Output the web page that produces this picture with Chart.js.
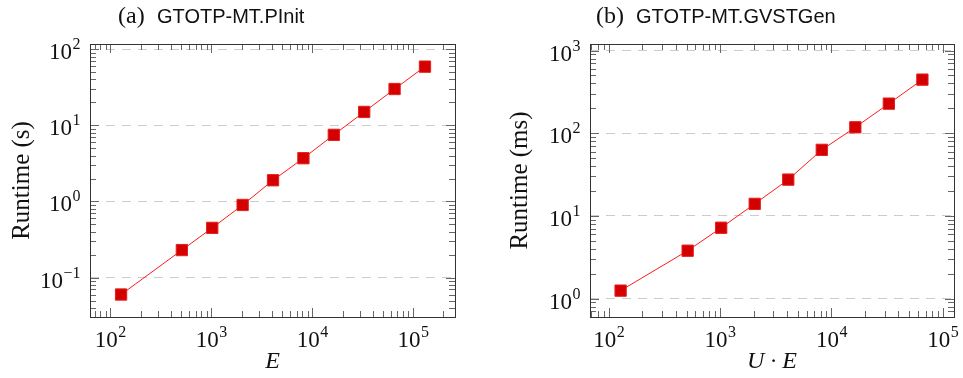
<!DOCTYPE html>
<html>
<head>
<meta charset="utf-8">
<script src="https://cdn.jsdelivr.net/npm/chart.js@4"></script>
<style>
  body { margin: 0; background: #fff; }
  .panel { position: absolute; top: 0; width: 480px; height: 378px; }
</style>
</head>
<body>
<div class="panel" style="left:0"><canvas id="chartA" width="480" height="378"></canvas></div>
<div class="panel" style="left:483px"><canvas id="chartB" width="480" height="378"></canvas></div>
<script>
// (a) GTOTP-MT.PInit : runtime (s) vs E
const xA = [128, 512, 1024, 2048, 4096, 8192, 16384, 32768, 65536, 131072];
const yA = [0.06, 0.23, 0.45, 0.9, 1.9, 3.7, 7.5, 15, 30, 59];
// (b) GTOTP-MT.GVSTGen : runtime (ms) vs U*E
const xB = [128, 512, 1024, 2048, 4096, 8192, 16384, 32768, 65536];
const yB = [1.25, 3.8, 7.2, 14, 27.5, 63, 118, 228, 445];

// major ticks (powers of ten)
const xTicksA = [1e2, 1e3, 1e4, 1e5];
const yTicksA = [1e-1, 1e0, 1e1, 1e2];
const xTicksB = [1e2, 1e3, 1e4, 1e5];
const yTicksB = [1e0, 1e1, 1e2, 1e3];

const SERIF = '"Liberation Serif", "DejaVu Serif", serif';
const SANS = '"Liberation Sans", "DejaVu Sans", sans-serif';

// draw 10^n with a raised exponent
function drawPow(ctx, v, x, base, align) {
  const e = Math.round(Math.log10(v));
  const exp = e < 0 ? '\u2212' + (-e) : String(e);
  ctx.font = '23px ' + SERIF;
  const w1 = ctx.measureText('10').width;
  ctx.font = '16px ' + SERIF;
  const w2 = ctx.measureText(exp).width;
  let x0 = align === 'center' ? x - (w1 + w2) / 2 : x - (w1 + w2);
  ctx.textAlign = 'left';
  ctx.textBaseline = 'alphabetic';
  ctx.font = '23px ' + SERIF;
  ctx.fillText('10', x0, base);
  ctx.font = '16px ' + SERIF;
  ctx.fillText(exp, x0 + w1 + 0.5, base - 10);
}

const decor = {
  id: 'decor',
  afterDraw(chart, args, o) {
    const ctx = chart.ctx, a = chart.chartArea;
    const xs = chart.scales.x, ys = chart.scales.y;
    ctx.save();

    // inner tick marks on all four sides
    ctx.strokeStyle = '#666';
    ctx.lineWidth = 1;
    const eachTick = (s, fn) => {
      const lo = Math.floor(Math.log10(s.min)), hi = Math.ceil(Math.log10(s.max));
      for (let d = lo; d <= hi; d++) {
        for (let k = 1; k <= 9; k++) {
          const v = k * Math.pow(10, d);
          if (v < s.min || v > s.max) continue;
          fn(Math.round(s.getPixelForValue(v)) + 0.5, k === 1 ? 9 : 6);
        }
      }
    };
    ctx.beginPath();
    eachTick(xs, (p, len) => {
      ctx.moveTo(p, a.bottom); ctx.lineTo(p, a.bottom - len);
      ctx.moveTo(p, a.top); ctx.lineTo(p, a.top + len);
    });
    eachTick(ys, (p, len) => {
      ctx.moveTo(a.left, p); ctx.lineTo(a.left + len, p);
      ctx.moveTo(a.right, p); ctx.lineTo(a.right - len, p);
    });
    ctx.stroke();

    // frame
    ctx.strokeStyle = '#333';
    ctx.strokeRect(Math.round(a.left) + 0.5, Math.round(a.top) + 0.5,
      Math.round(a.right - a.left), Math.round(a.bottom - a.top));

    // tick labels
    ctx.fillStyle = '#111';
    o.xTicks.forEach(v => drawPow(ctx, v, xs.getPixelForValue(v), a.bottom + 30, 'center'));
    o.yTicks.forEach(v => drawPow(ctx, v, a.left - 10, ys.getPixelForValue(v) + 10, 'right'));

    // axis titles
    ctx.textAlign = 'center';
    ctx.textBaseline = 'alphabetic';
    ctx.font = 'italic 24px ' + SERIF;
    ctx.fillText(o.xTitle, (a.left + a.right) / 2, 368);
    ctx.save();
    ctx.translate(o.yTitleX, (a.top + a.bottom) / 2);
    ctx.rotate(-Math.PI / 2);
    ctx.textBaseline = 'middle';
    ctx.font = '25px ' + SERIF;
    ctx.fillText(o.yTitle, 0, 0);
    ctx.restore();

    // subfigure caption
    ctx.textAlign = 'left';
    ctx.font = '24px ' + SERIF;
    ctx.fillText(o.tag, o.tagX, 23);
    ctx.font = '20px ' + SANS;
    ctx.fillText(o.caption, o.capX, 23);

    ctx.restore();
  }
};

function makeChart(id, xs, ys, cfg) {
  new Chart(document.getElementById(id), {
    type: 'line',
    data: {
      datasets: [{
        data: xs.map((x, i) => ({ x: x, y: ys[i] })),
        borderColor: '#ff1a1a',
        borderWidth: 1,
        backgroundColor: '#d40000',
        pointStyle: 'rect',
        pointRadius: 8,
        pointBorderColor: '#e62020',
        pointBorderWidth: 1,
        tension: 0,
        clip: false
      }]
    },
    options: {
      responsive: false,
      animation: false,
      layout: { padding: { top: 44, right: cfg.padRight, left: 0, bottom: 0 } },
      plugins: {
        legend: { display: false },
        tooltip: { enabled: false },
        decor: cfg.decor
      },
      scales: {
        x: {
          type: 'logarithmic',
          min: cfg.xMin, max: cfg.xMax,
          ticks: { display: false },
          grid: { display: false },
          border: { display: false },
          afterFit: s => { s.height = 61; }
        },
        y: {
          type: 'logarithmic',
          min: cfg.yMin, max: cfg.yMax,
          ticks: { display: false },
          grid: { color: '#cccccc', lineWidth: 1, drawTicks: false },
          border: { display: false, dash: [9, 7] },
          afterBuildTicks: s => { s.ticks = cfg.decor.yTicks.map(v => ({ value: v })); },
          afterFit: s => { s.width = cfg.yWidth; }
        }
      }
    },
    plugins: [decor]
  });
}

makeChart('chartA', xA, yA, {
  xMin: 63, xMax: 2.6e5, yMin: 0.0304, yMax: 117,
  yWidth: 90, padRight: 25,
  decor: {
    xTicks: xTicksA, yTicks: yTicksA,
    xTitle: 'E', yTitle: 'Runtime (s)', yTitleX: 22,
    tag: '(a)', tagX: 118, caption: 'GTOTP-MT.PInit', capX: 157
  }
});

makeChart('chartB', xB, yB, {
  xMin: 68, xMax: 1.26e5, yMin: 0.637, yMax: 1200,
  yWidth: 107, padRight: 8,
  decor: {
    xTicks: xTicksB, yTicks: yTicksB,
    xTitle: 'U \u00b7 E', yTitle: 'Runtime (ms)', yTitleX: 37,
    tag: '(b)', tagX: 113, caption: 'GTOTP-MT.GVSTGen', capX: 153
  }
});
</script>
</body>
</html>
